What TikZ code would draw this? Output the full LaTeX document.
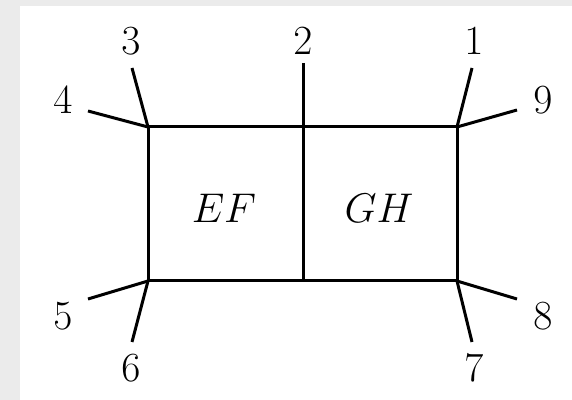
\documentclass[tikz,border=0pt]{standalone}
\definecolor{bggray}{HTML}{EBEBEB}
\tikzset{
  edge/.style={line width=1.5pt},
  lbl/.style={inner sep=0pt, font=\fontsize{22}{26}\selectfont},
}
\begin{document}
\begin{tikzpicture}[x=0.5pt,y=-0.5pt]
\fill[bggray] (0,0) rectangle (572,400);
\fill[white] (20,6) rectangle (572,400);
\useasboundingbox (0,0) rectangle (572,400);
% corners
\coordinate (TL) at (148,127);
\coordinate (TR) at (457,127);
\coordinate (BL) at (148,281);
\coordinate (BR) at (457,281);
\coordinate (MT) at (303,127);
\coordinate (MB) at (303,281);
% free ends
\coordinate (e1) at (472,68);
\coordinate (e2) at (303,63);
\coordinate (e3) at (132,68);
\coordinate (e4) at (88,111);
\coordinate (e5) at (88,299);
\coordinate (e6) at (132,342);
\coordinate (e7) at (472,342);
\coordinate (e8) at (517,299);
\coordinate (e9) at (517,110);
% box
\draw[edge] (TL) -- (TR) -- (BR) -- (BL) -- cycle;
\draw[edge] (e2) -- (MB);
\draw[edge] (TL) -- (e3);
\draw[edge] (TL) -- (e4);
\draw[edge] (TR) -- (e1);
\draw[edge] (TR) -- (e9);
\draw[edge] (BL) -- (e5);
\draw[edge] (BL) -- (e6);
\draw[edge] (BR) -- (e7);
\draw[edge] (BR) -- (e8);
% labels
\node[lbl] (l1) at (474,41) {$1$};
\node[lbl] (l2) at (303,41) {$2$};
\node[lbl] (l3) at (131,41) {$3$};
\node[lbl] (l4) at (63,100) {$4$};
\node[lbl] (l5) at (63,316) {$5$};
\node[lbl] (l6) at (131,368) {$6$};
\node[lbl] (l7) at (474,368) {$7$};
\node[lbl] (l8) at (543,316) {$8$};
\node[lbl] (l9) at (543,100) {$9$};
\node[lbl] (ef) at (224,208) {$EF$};
\node[lbl] (gh) at (379,208) {$GH$};
\end{tikzpicture}
\end{document}
